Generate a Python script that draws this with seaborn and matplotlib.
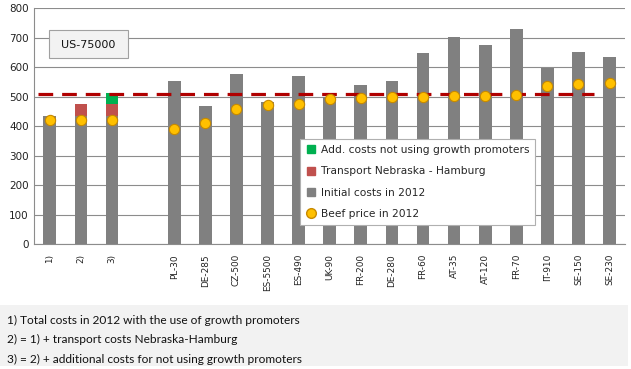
import numpy as np
import pandas as pd
import matplotlib
matplotlib.use("Agg")
import matplotlib.pyplot as plt
import seaborn as sns
from matplotlib.lines import Line2D
from matplotlib.patches import Rectangle

categories = ["1)", "2)", "3)", "", "PL-30", "DE-285", "CZ-500", "ES-5500", "ES-490",
              "UK-90", "FR-200", "DE-280", "FR-60", "AT-35", "AT-120", "FR-70",
              "IT-910", "SE-150", "SE-230"]
initial_costs = [435, 435, 435, 0, 553, 469, 577, 483, 570, 500, 540, 553, 648, 702,
                 676, 730, 599, 652, 635]
transport_costs = [0, 40, 40, 0, 0, 0, 0, 0, 0, 0, 0, 0, 0, 0, 0, 0, 0, 0, 0]
add_costs = [0, 0, 37, 0, 0, 0, 0, 0, 0, 0, 0, 0, 0, 0, 0, 0, 0, 0, 0]
beef_price = [421, 421, 421, np.nan, 391, 410, 459, 473, 475, 492, 497, 499, 499, 503,
              502, 507, 537, 543, 548]
reference_level = 511
y_ticks = [0, 100, 200, 300, 400, 500, 600, 700, 800]

footnotes = ["1) Total costs in 2012 with the use of growth promoters",
             "2) = 1) + transport costs Nebraska-Hamburg",
             "3) = 2) + additional costs for not using growth promoters"]

GRAY = "#808080"
RED = "#c0504d"
GREEN = "#00b050"
ORANGE = "#ffc000"
DRED = "#b00000"

sns.set_theme(style="white")
plt.rcParams["font.family"] = ["DejaVu Sans"]

df = pd.DataFrame({"cat": categories,
                   "initial": initial_costs,
                   "transport": transport_costs,
                   "add": add_costs,
                   "beef": beef_price})
df["lvl2"] = df["initial"] + df["transport"]
df["lvl3"] = df["lvl2"] + df["add"]

fig = plt.figure(figsize=(6.31, 3.69), dpi=100)
ax = fig.add_axes([0.0544, 0.338, 0.9362, 0.6395])

bw = 0.41
for col, c in [("lvl3", GREEN), ("lvl2", RED), ("initial", GRAY)]:
    sns.barplot(data=df, x="cat", y=col, order=categories, color=c, width=bw,
                saturation=1, ax=ax, errorbar=None, linewidth=0, edgecolor="none")

ax.hlines(reference_level, -0.38, 17.5, colors=DRED, linewidth=2.3,
          linestyles=(0, (4.6, 2.8)), zorder=4)

dots = df.dropna(subset=["beef"])
sns.stripplot(data=dots, x="cat", y="beef", order=categories, jitter=False,
              color=ORANGE, size=7.4, edgecolor="#c88a00", linewidth=0.8,
              ax=ax, zorder=5)

ax.set_ylim(0, 800)
ax.set_xlim(-0.5, len(categories) - 0.5)
ax.set_yticks(y_ticks)
ax.set_yticklabels([str(v) for v in y_ticks], fontsize=7.5, color="#222222")
ax.set_xlabel("")
ax.set_ylabel("")
ax.grid(axis="y", color="#8c8c8c", linewidth=0.8)
ax.set_axisbelow(True)
for s in ["top", "right"]:
    ax.spines[s].set_visible(False)
for s in ["left", "bottom"]:
    ax.spines[s].set_color("#8c8c8c")
    ax.spines[s].set_linewidth(0.8)
ax.tick_params(axis="y", length=0, pad=4)
ax.set_xticks(range(len(categories)))
ax.set_xticklabels(categories, rotation=90, fontsize=6.4, color="#222222")
ax.tick_params(axis="x", which="major", length=0, pad=7)
ax.set_xticks(np.arange(-0.5, len(categories), 1.0), minor=True)
ax.tick_params(axis="x", which="minor", length=4, color="#8c8c8c", width=0.8)

handles = [Line2D([], [], marker="s", linestyle="none", color=GREEN, markersize=5.5),
           Line2D([], [], marker="s", linestyle="none", color=RED, markersize=5.5),
           Line2D([], [], marker="s", linestyle="none", color=GRAY, markersize=5.5),
           Line2D([], [], marker="o", linestyle="none", markerfacecolor=ORANGE,
                  markeredgecolor="#c88a00", markersize=7)]
labels = ["Add. costs not using growth promoters", "Transport Nebraska - Hamburg",
          "Initial costs in 2012", "Beef price in 2012"]
leg = ax.legend(handles, labels, loc="upper left", bbox_to_anchor=(0.4755, 0.6225),
                bbox_transform=fig.transFigure, fontsize=7.7, frameon=True,
                fancybox=False, framealpha=1, edgecolor="#b0b0b0",
                handlelength=0.9, handletextpad=0.5, labelspacing=1.05,
                borderpad=0.55, borderaxespad=0)
leg.get_frame().set_linewidth(0.8)
leg.set_zorder(10)

# US-75000 label box
fig.patches.append(Rectangle((49 / 631, 1 - 58 / 369), 79 / 631, 28 / 369,
                             transform=fig.transFigure, facecolor="#f2f2f2",
                             edgecolor="#a0a0a0", linewidth=0.8, zorder=6))
fig.text(88.5 / 631, 1 - 44.5 / 369, "US-75000", ha="center", va="center",
         fontsize=8, color="#111111", zorder=7)

# footnote area
fig.patches.append(Rectangle((0, 1 - 366 / 369), 628 / 631, 61 / 369,
                             transform=fig.transFigure, facecolor="#f2f2f2",
                             edgecolor="none", zorder=0))
texts = []
for i, t in enumerate(footnotes):
    texts.append(fig.text(7 / 631, 1 - (320 + 19.5 * i) / 369, t, ha="left",
                          va="center", fontsize=10, family=["Lato", "DejaVu Sans"],
                          color="#111111"))
fig.canvas.draw()
renderer = fig.canvas.get_renderer()
w = texts[0].get_window_extent(renderer).width
new_size = 10 * 294.0 / w
for t in texts:
    t.set_fontsize(new_size)

fig.savefig("out.png", dpi=100)
